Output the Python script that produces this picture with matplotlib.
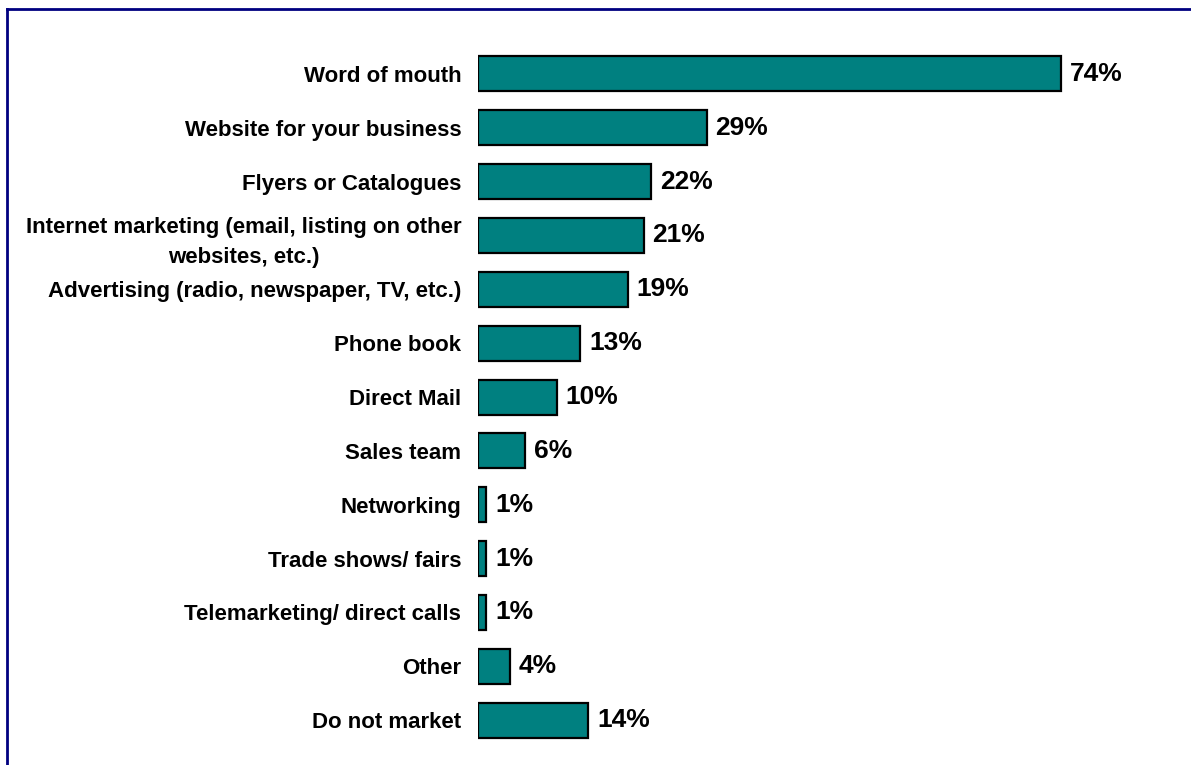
import matplotlib.pyplot as plt
from matplotlib.lines import Line2D

plt.rcParams["font.family"] = ["Liberation Sans", "DejaVu Sans"]
plt.rcParams["font.weight"] = "bold"

channels = [
    "Word of mouth",
    "Website for your business",
    "Flyers or Catalogues",
    "Internet marketing (email, listing on other\nwebsites, etc.)",
    "Advertising (radio, newspaper, TV, etc.)",
    "Phone book",
    "Direct Mail",
    "Sales team",
    "Networking",
    "Trade shows/ fairs",
    "Telemarketing/ direct calls",
    "Other",
    "Do not market",
]
shares = [74, 29, 22, 21, 19, 13, 10, 6, 1, 1, 1, 4, 14]

W, H = 1191, 765
fig = plt.figure(figsize=(W / 100, H / 100), dpi=100)

# axes placed in pixel terms: bars start at x=478, rows span y=47..747
left, right = 478, 1148
top, bottom = 47, 747
ax = fig.add_axes([left / W, 1 - bottom / H, (right - left) / W, (bottom - top) / H])

ypos = list(range(len(channels)))
ax.barh(ypos, shares, height=0.65, color="#008080", edgecolor="black", linewidth=1.6)
ax.set_xlim(0, 85)
ax.set_ylim(len(channels) - 0.5, -0.5)

for y, v in zip(ypos, shares):
    ax.annotate(f"{v}%", (v, y), xytext=(6.5, 0), textcoords="offset points",
                ha="left", va="center", fontsize=19, fontweight="bold")

ax.set_yticks(ypos)
ax.set_yticklabels(channels, fontsize=16, fontweight="bold", multialignment="center",
                   linespacing=1.55)
ax.tick_params(axis="y", length=0, pad=12)
ax.set_xticks([])
for s in ax.spines.values():
    s.set_visible(False)

# navy frame (top and left edges visible)
fx = 6.5 / W
fy = 1 - 8.5 / H
fig.add_artist(Line2D([fx, 1.01], [fy, fy], color="#000080", linewidth=2, transform=fig.transFigure))
fig.add_artist(Line2D([fx, fx], [-0.01, fy], color="#000080", linewidth=2, transform=fig.transFigure))

fig.savefig("out.png", dpi=100)
